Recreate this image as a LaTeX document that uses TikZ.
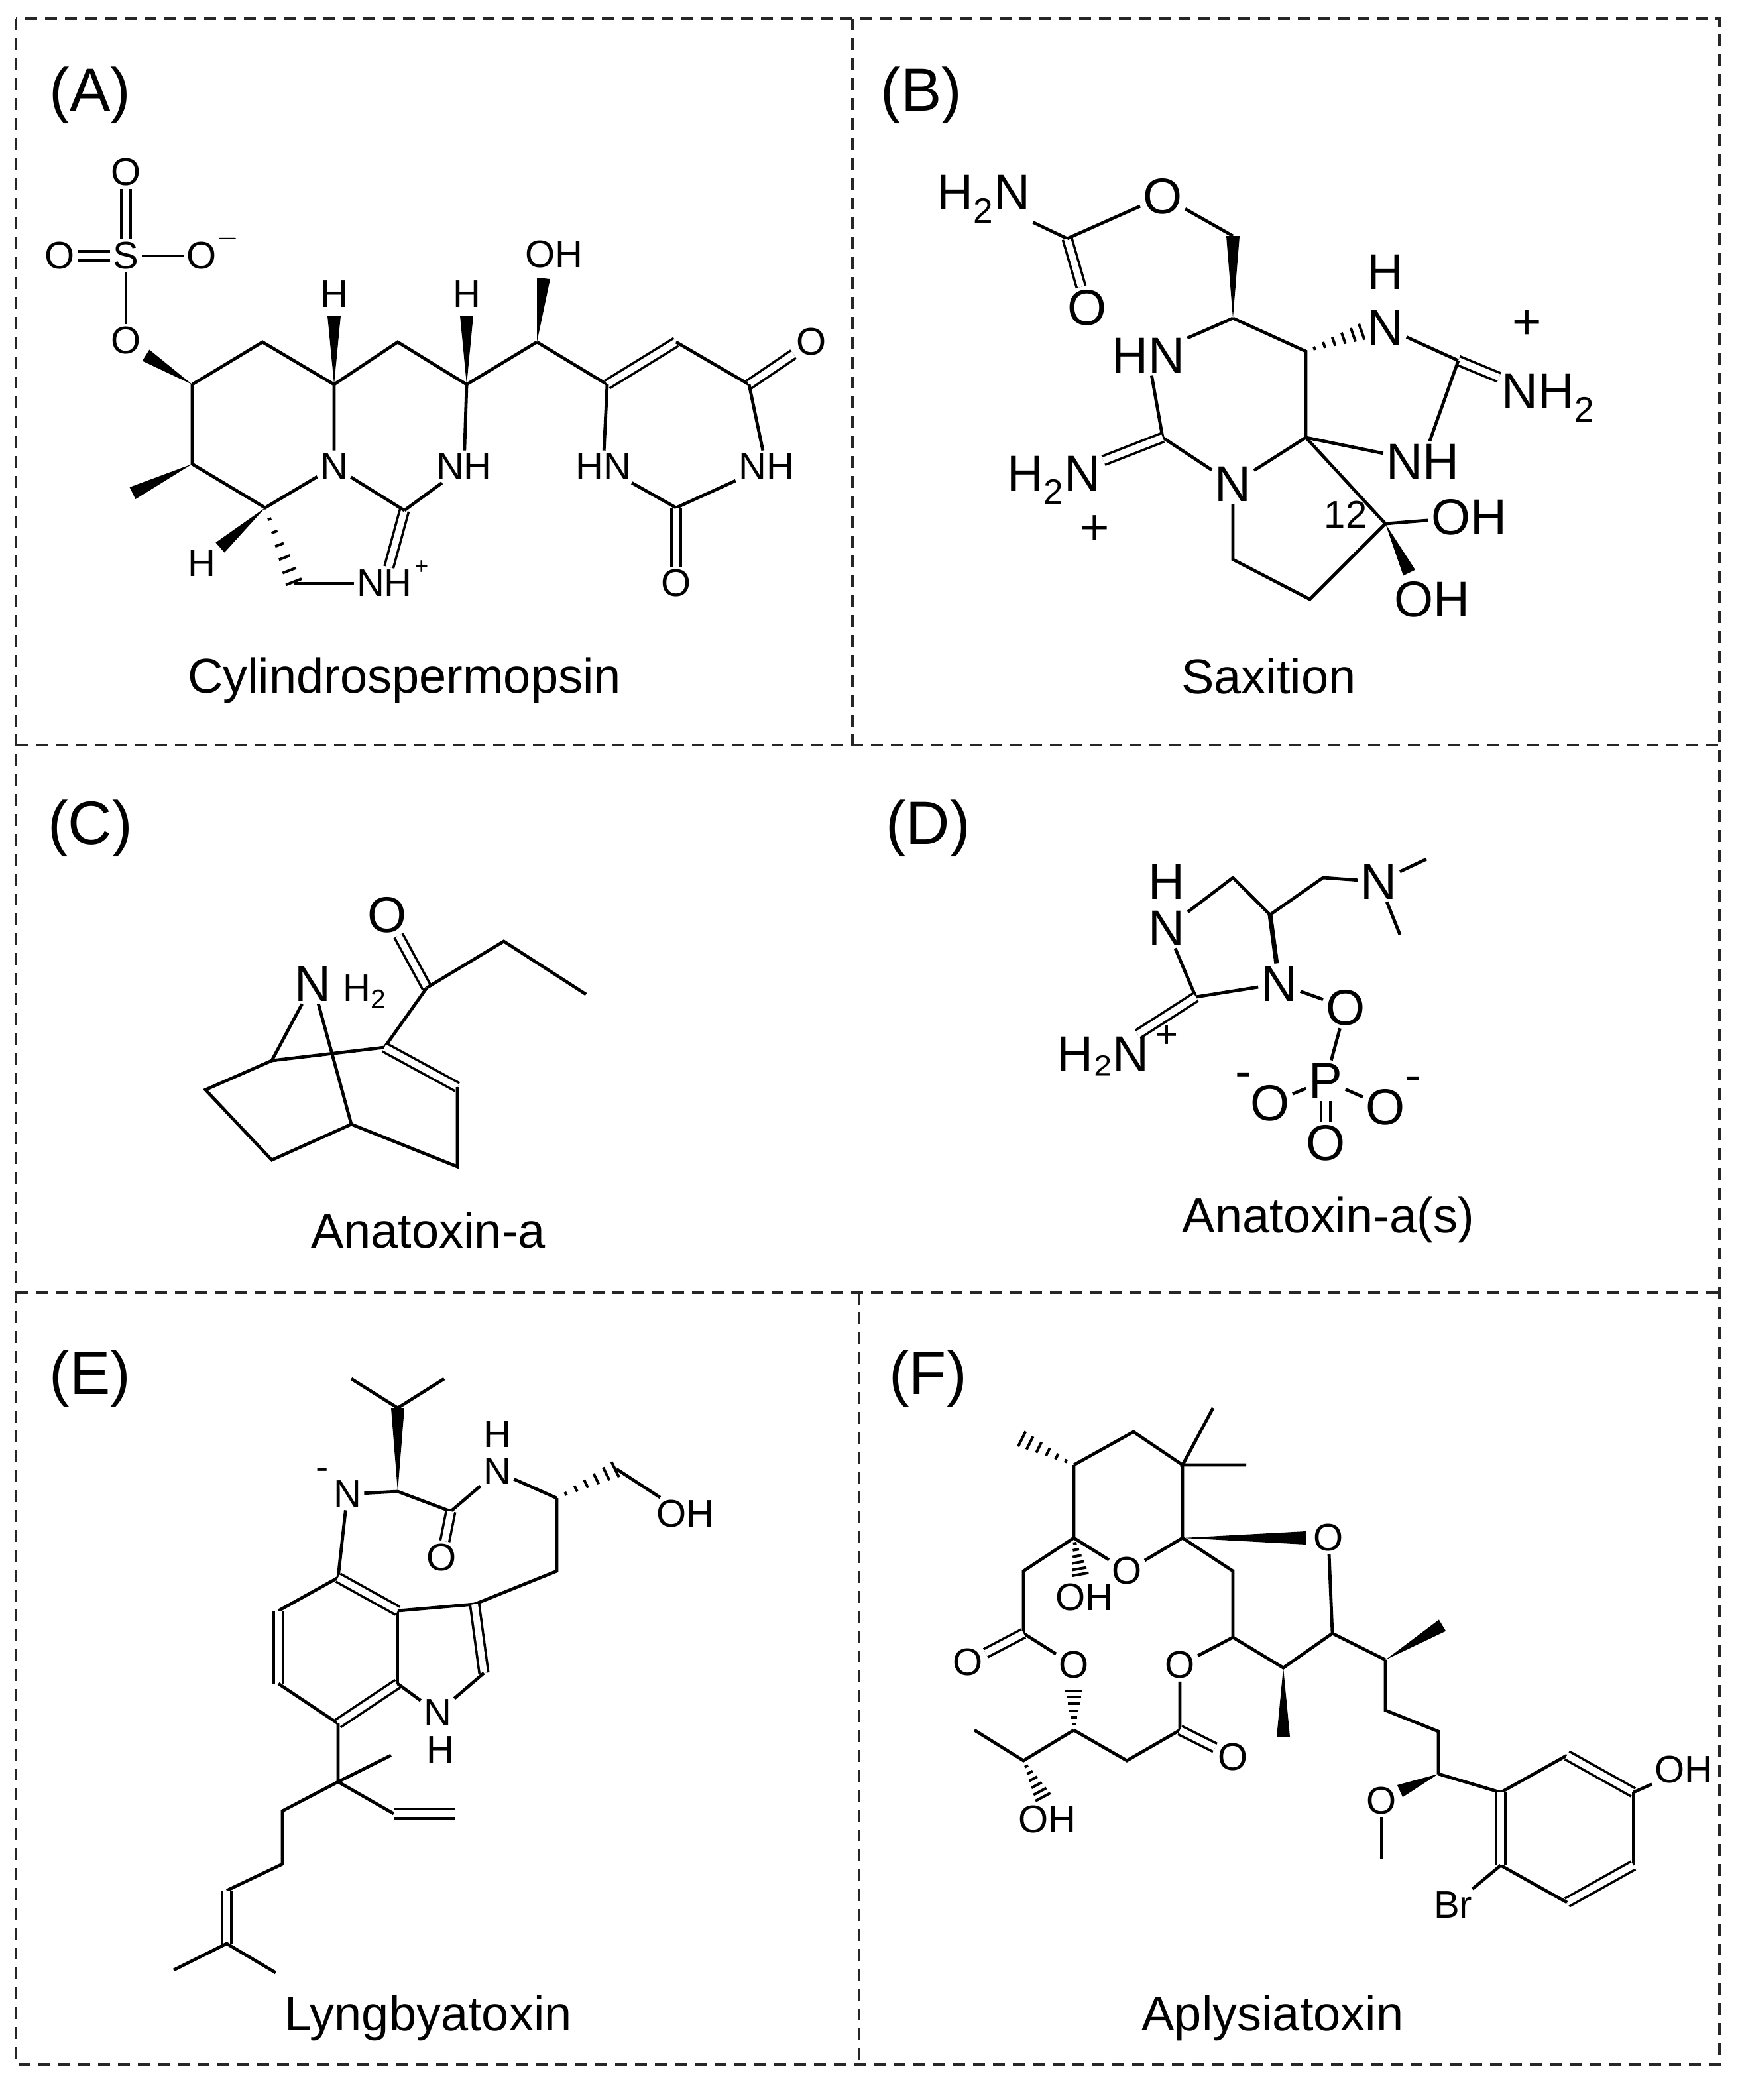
\documentclass[tikz,border=0pt]{standalone}
\usepackage{fontspec}
\setmainfont{Liberation Sans}
\usetikzlibrary{calc}
\begin{document}
\begin{tikzpicture}[x=1pt,y=-1pt,
 b/.style={line width=2.4pt},
 db/.style={line width=1.8pt,double,double distance=5pt},
 frm/.style={line width=2pt,dashed,dash pattern=on 9pt off 6pt,color=black!85},
 atm/.style={font=\fontsize{29}{29}\selectfont,inner sep=2pt},
 atB/.style={font=\fontsize{38}{38}\selectfont,inner sep=2pt},
 pl/.style={font=\fontsize{46}{46}\selectfont},
 nm/.style={font=\fontsize{37}{37}\selectfont}]
\newcommand\wdg[2]{\fill ($(#1)$) -- ($(#2)!5pt!90:(#1)$) -- ($(#2)!5pt!-90:(#1)$) -- cycle;}
\newcommand\hsh[2]{\foreach \t in {0.15,0.32,0.49,0.66,0.83,0.98}{\pgfmathsetmacro\w{\t*6+0.5}\draw[line width=2pt] ($(#1)!\t!(#2)!\w pt!90:(#2)$) -- ($(#1)!\t!(#2)!\w pt!-90:(#2)$);}}
\useasboundingbox (0,0) rectangle (1311,1584);
\fill[white] (0,0) rectangle (1311,1584);
% frame
\draw[frm] (12,14) rectangle (1297,1557);
\draw[frm] (12,562) -- (1297,562);
\draw[frm] (12,975) -- (1297,975);
\draw[frm] (643,14) -- (643,562);
\draw[frm] (648,975) -- (648,1557);
% panel labels
\node[pl] (lA) at (68,72) {(A)};
\node[pl] (lB) at (695,72) {(B)};
\node[pl] (lC) at (68,625) {(C)};
\node[pl] (lD) at (700,625) {(D)};
\node[pl] (lE) at (68,1040) {(E)};
\node[pl] (lF) at (700,1040) {(F)};
\node[nm] (nA) at (305,513) {Cylindrospermopsin};
\node[nm] (nB) at (957,510) {Saxition};
\node[nm] (nC) at (323,928) {Anatoxin-a};
\node[nm] (nD) at (1002,920) {Anatoxin-a(s)};
\node[nm] (nE) at (323,1522) {Lyngbyatoxin};
\node[nm] (nF) at (960,1522) {Aplysiatoxin};
% ===== A =====
\node[atm] (S) at (95,193) {S};
\node[atm] (O1) at (95,130) {O};
\node[atm] (O2) at (45,193) {O};
\node[atm] (O3) at (152,193) {O};
\node[atm] (O3m) at (172,180) {\fontsize{20}{20}\selectfont$-$};
\node[atm] (O4) at (95,257) {O};
\draw[db] (S) -- (O1); \draw[db] (S) -- (O2);
\draw[b] (S) -- (O3); \draw[b] (S) -- (O4);
\coordinate (a1) at (145,290); \coordinate (a2) at (198,258); \coordinate (a3) at (252,290);
\node[atm] (aN) at (252,352) {N};
\coordinate (a5) at (200,383); \coordinate (a6) at (145,350);
\coordinate (o4e) at (110,268);
\wdg{a1}{o4e}
\draw[b] (a1) -- (a2) -- (a3) -- (aN) -- (a5) -- (a6) -- (a1);
\coordinate (me1) at (100,372); \wdg{a6}{me1}
\node[atm] (H1) at (152,425) {H}; \coordinate (h1e) at (166,413); \wdg{a5}{h1e}
\coordinate (a7) at (222,440); \hsh{a5}{a7}
\node[atm] (NHp) at (290,440) {NH};
\node[atm] (NHpp) at (318,428) {\fontsize{18}{18}\selectfont+};
\coordinate (a8) at (305,385);
\draw[b] (a7) -- (NHp); \draw[db] (NHp) -- (a8); \draw[b] (a8) -- (aN);
\node[atm] (aNH) at (350,352) {NH};
\draw[b] (a8) -- (aNH);
\coordinate (a9) at (300,258); \coordinate (a10) at (352,290);
\draw[b] (a3) -- (a9) -- (a10) -- (aNH);
\node[atm] (H2) at (252,222) {H}; \coordinate (h2e) at (252,238); \wdg{a3}{h2e}
\node[atm] (H3) at (352,222) {H}; \coordinate (h3e) at (352,238); \wdg{a10}{h3e}
\coordinate (a11) at (405,258); \draw[b] (a10) -- (a11);
\node[atm] (OH1) at (418,192) {OH}; \coordinate (oh1e) at (410,210); \wdg{a11}{oh1e}
\coordinate (a12) at (458,290); \coordinate (a13) at (510,258); \coordinate (a14) at (565,290);
\draw[b] (a11) -- (a12); \draw[db] (a12) -- (a13); \draw[b] (a13) -- (a14);
\node[atm] (Oa) at (612,258) {O}; \draw[db] (a14) -- (Oa);
\node[atm] (NHa) at (578,352) {NH}; \draw[b] (a14) -- (NHa);
\coordinate (a16) at (510,383); \draw[b] (NHa) -- (a16);
\node[atm] (Ob) at (510,440) {O}; \draw[db] (a16) -- (Ob);
\node[atm] (HNa) at (455,352) {HN}; \draw[b] (a16) -- (HNa) -- (a12);
% ===== B =====
\node[atB] (bH2N) at (742,150) {H\textsubscript{2}N};
\coordinate (b1) at (805,180);
\node[atB] (bO1) at (820,232) {O};
\node[atB] (bO2) at (877,148) {O};
\coordinate (b2) at (930,178); \coordinate (b6) at (930,240);
\draw[b] (bH2N) -- (b1); \draw[db] (b1) -- (bO1); \draw[b] (b1) -- (bO2) -- (b2);
\wdg{b6}{b2}
\node[atB] (bHN) at (866,268) {HN};
\coordinate (b7) at (877,330);
\node[atB] (bN) at (930,365) {N};
\coordinate (b4) at (985,330); \coordinate (b5) at (985,265);
\draw[b] (b6) -- (bHN) -- (b7) -- (bN) -- (b4) -- (b5) -- (b6);
\node[atB] (bH2N2) at (795,362) {H\textsubscript{2}N};
\draw[db] (b7) -- (bH2N2);
\node[atB] (bp1) at (826,400) {+};
\node[atB] (bN9) at (1045,247) {N};
\node[atB] (bH9) at (1045,205) {H};
\coordinate (b9e) at (1028,250); \hsh{b5}{b9e}
\coordinate (b8) at (1100,272);
\draw[b] (bN9) -- (b8);
\node[atB] (bNH2) at (1168,300) {NH\textsubscript{2}}; \draw[db] (b8) -- (bNH2);
\node[atB] (bp2) at (1152,245) {+};
\node[atB] (bNH) at (1073,348) {NH}; \draw[b] (b8) -- (bNH); \draw[b] (b4) -- (bNH);
\coordinate (b10) at (930,422); \coordinate (b11) at (988,452); \coordinate (b12) at (1045,395);
\draw[b] (bN) -- (b10) -- (b11) -- (b12) -- (b4);
\node[atm] (b12l) at (1015,388) {12};
\node[atB] (bOH1) at (1108,390) {OH}; \draw[b] (b12) -- (bOH1);
\node[atB] (bOH2) at (1080,452) {OH}; \coordinate (boh2e) at (1063,432); \wdg{b12}{boh2e}
% ===== C =====
\node[atB] (cO) at (292,690) {O};
\coordinate (c1) at (322,745); \coordinate (c2) at (380,710); \coordinate (c3) at (442,750);
\draw[db] (c1) -- (cO); \draw[b] (c1) -- (c2) -- (c3);
\node[atB] (cN) at (236,742) {N};
\node[atm] (cH) at (275,748) {H\textsubscript{2}};
\coordinate (cL) at (205,800); \coordinate (cR) at (290,790); \coordinate (cE) at (345,820);
\coordinate (cD) at (345,880); \coordinate (c6) at (265,848); \coordinate (cA) at (155,822); \coordinate (cB) at (205,875);
\draw[b] (cN) -- (cL); \draw[b] (cN) -- (c6);
\draw[b] (cL) -- (cR) -- (c1);
\draw[db] (cR) -- (cE);
\draw[b] (cE) -- (cD) -- (c6) -- (cB) -- (cA) -- (cL);
% ===== D =====
\node[atB] (dH) at (880,665) {H};
\node[atB] (dN1) at (880,700) {N};
\coordinate (d1) at (930,662); \coordinate (d5) at (958,690);
\node[atB] (dN3) at (965,742) {N};
\coordinate (d2) at (902,752);
\draw[b] (dN1) -- (d1) -- (d5); \draw[line width=3.5pt] (d5) -- (dN3); \draw[b] (dN3) -- (d2) -- (dN1);
\node[atB] (dH2N) at (832,797) {H₂N};
\node[atm] (dpl) at (880,782) {+};
\draw[db] (d2) -- (dH2N);
\coordinate (d6) at (998,662);
\node[atB] (dNm) at (1040,665) {N};
\coordinate (dm1) at (1076,648); \coordinate (dm2) at (1056,705);
\draw[b] (d5) -- (d6) -- (dNm) -- (dm1); \draw[b] (dNm) -- (dm2);
\node[atB] (dO1) at (1015,760) {O};
\node[atB] (dP) at (1000,815) {P};
\node[atB] (dO2) at (958,832) {O};
\node[atB] (dm3) at (938,815) {-};
\node[atB] (dO3) at (1000,862) {O};
\node[atB] (dO4) at (1045,835) {O};
\node[atB] (dm4) at (1066,818) {-};
\draw[b] (dN3) -- (dO1) -- (dP) -- (dO2); \draw[db] (dP) -- (dO3); \draw[b] (dP) -- (dO4);
% ===== E =====
\coordinate (e0) at (300,1062); \coordinate (em1) at (265,1040); \coordinate (em2) at (335,1040);
\coordinate (ea) at (300,1125);
\draw[b] (em1) -- (e0) -- (em2); \wdg{ea}{e0}
\node[atm] (eN) at (262,1127) {N};
\node[atm] (eNm) at (243,1112) {-};
\coordinate (ec) at (340,1140);
\node[atm] (eO) at (333,1175) {O};
\node[atm] (eNH) at (375,1110) {N};
\node[atm] (eHH) at (375,1082) {H};
\coordinate (e9) at (420,1130); \coordinate (e10) at (465,1108);
\node[atm] (eOH) at (517,1142) {OH};
\draw[b] (eN) -- (ea) -- (ec) -- (eNH) -- (e9); \draw[db] (ec) -- (eO);
\hsh{e9}{e10} \draw[b] (e10) -- (eOH);
\coordinate (e11) at (420,1185); \coordinate (e3) at (358,1210);
\draw[b] (e9) -- (e11) -- (e3);
\coordinate (e4) at (255,1190); \coordinate (e5) at (210,1215); \coordinate (e6) at (210,1270);
\coordinate (e7) at (255,1300); \coordinate (e7a) at (300,1270); \coordinate (e3a) at (300,1215);
\coordinate (e2) at (365,1262);
\node[atm] (eN1) at (330,1292) {N};
\node[atm] (eH1) at (332,1320) {H};
\draw[b] (eN) -- (e4);
\draw[b] (e4) -- (e5); \draw[db] (e5) -- (e6); \draw[b] (e6) -- (e7); \draw[db] (e7) -- (e7a);
\draw[b] (e7a) -- (e3a); \draw[db] (e3a) -- (e4);
\draw[b] (e3a) -- (e3); \draw[db] (e3) -- (e2); \draw[b] (e2) -- (eN1) -- (e7a);
\coordinate (eq) at (255,1344); \coordinate (eme) at (295,1324);
\coordinate (ev1) at (297,1368); \coordinate (ev2) at (343,1368);
\coordinate (ec1) at (213,1366); \coordinate (ec2) at (213,1406); \coordinate (ec3) at (171,1426);
\coordinate (ec4) at (171,1466); \coordinate (ec6) at (131,1486); \coordinate (ec7) at (208,1488);
\draw[b] (e7) -- (eq) -- (eme); \draw[b] (eq) -- (ev1); \draw[db] (ev1) -- (ev2);
\draw[b] (eq) -- (ec1) -- (ec2) -- (ec3); \draw[db] (ec3) -- (ec4);
\draw[b] (ec6) -- (ec4) -- (ec7);
% ===== F =====
\coordinate (f1) at (810,1105); \coordinate (f2) at (855,1080); \coordinate (f3) at (892,1105);
\coordinate (f4) at (892,1160); \coordinate (f5) at (810,1160);
\node[atm] (fOr) at (850,1185) {O};
\coordinate (fme1) at (770,1085); \hsh{f1}{fme1}
\coordinate (fg1) at (915,1062); \coordinate (fg2) at (940,1105);
\draw[b] (f1) -- (f2) -- (f3) -- (f4) -- (fOr) -- (f5) -- (f1);
\draw[b] (fg1) -- (f3) -- (fg2);
\node[atm] (fOH1) at (818,1205) {OH}; \coordinate (foh1e) at (815,1188); \hsh{f5}{foh1e}
\node[atm] (fOf) at (1002,1160) {O};
\coordinate (fof) at (985,1160);
\fill (f4) -- ($(fof)!5pt!90:(f4)$) -- ($(fof)!5pt!-90:(f4)$) -- cycle;
\coordinate (fx) at (930,1185); \coordinate (fy) at (930,1235);
\coordinate (ff2) at (968,1258); \coordinate (ff1) at (1005,1232);
\draw[b] (f4) -- (fx) -- (fy) -- (ff2) -- (ff1) -- (fOf);
\coordinate (fme2) at (968,1310); \wdg{ff2}{fme2}
\coordinate (fm1) at (772,1185); \coordinate (fe1) at (772,1232);
\node[atm] (fO1) at (730,1254) {O};
\node[atm] (fO2) at (810,1256) {O};
\draw[b] (f5) -- (fm1) -- (fe1) -- (fO2); \draw[db] (fe1) -- (fO1);
\coordinate (fm2) at (810,1305); \coordinate (fm3) at (772,1328); \coordinate (fme3) at (735,1305);
\coordinate (fo2e) at (810,1275); \hsh{fm2}{fo2e}
\draw[b] (fm2) -- (fm3) -- (fme3);
\node[atm] (fOH2) at (790,1372) {OH}; \coordinate (foh2e) at (787,1356); \hsh{fm3}{foh2e}
\coordinate (fm4) at (850,1328); \coordinate (fe2) at (890,1305);
\node[atm] (fO3) at (930,1325) {O};
\node[atm] (fO4) at (890,1256) {O};
\draw[b] (fm2) -- (fm4) -- (fe2) -- (fO4) -- (fy); \draw[db] (fe2) -- (fO3);
\coordinate (fs1) at (1045,1252); \coordinate (fsme) at (1088,1226);
\coordinate (fs2) at (1045,1290); \coordinate (fs3) at (1085,1306); \coordinate (fs4) at (1085,1338);
\draw[b] (ff1) -- (fs1); \wdg{fs1}{fsme}
\draw[b] (fs1) -- (fs2) -- (fs3) -- (fs4);
\node[atm] (fOm) at (1042,1358) {O}; \coordinate (fome) at (1042,1402);
\coordinate (fom) at (1056,1351); \wdg{fs4}{fom}
\draw[b] (fOm) -- (fome);
\coordinate (r1) at (1132,1352); \coordinate (r2) at (1182,1324); \coordinate (r3) at (1232,1352);
\coordinate (r4) at (1232,1407); \coordinate (r5) at (1182,1435); \coordinate (r6) at (1132,1407);
\draw[b] (fs4) -- (r1);
\draw[b] (r1) -- (r2); \draw[db] (r2) -- (r3); \draw[b] (r3) -- (r4); \draw[db] (r4) -- (r5); \draw[b] (r5) -- (r6); \draw[db] (r6) -- (r1);
\node[atm] (fOH3) at (1270,1335) {OH}; \draw[b] (r3) -- (fOH3);
\node[atm] (fBr) at (1096,1437) {Br}; \draw[b] (r6) -- (fBr);
\end{tikzpicture}
\end{document}
